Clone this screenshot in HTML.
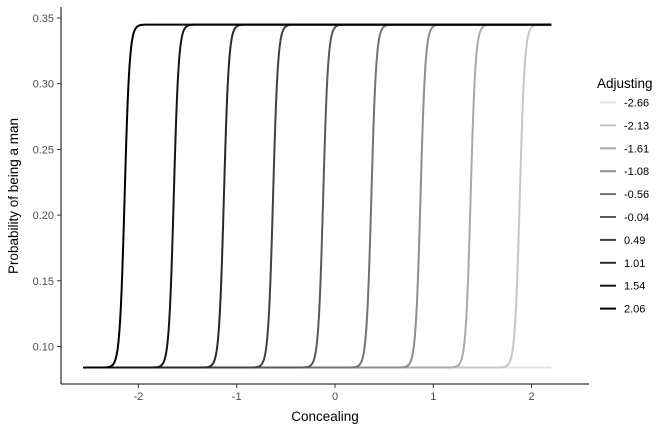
<!DOCTYPE html>
<html><head><meta charset="utf-8"><style>
body{margin:0;background:#fff;font-family:"Liberation Sans",sans-serif}
</style></head><body>
<svg id="chart" width="672" height="432" xmlns="http://www.w3.org/2000/svg" font-family="Liberation Sans, sans-serif">
<g id="plot"></g>
<g id="axes"></g>
<g id="legend"></g>
</svg>
<script>
const adjusting = [-2.66,-2.13,-1.61,-1.08,-0.56,-0.04,0.49,1.01,1.54,2.06];
const midpoints = [2.39,1.88,1.38,0.87,0.37,-0.12,-0.63,-1.13,-1.64,-2.14];
const colors = ["#e3e3e3","#c6c6c6","#a9a9a9","#8e8e8e","#737373","#595959","#414141","#2a2a2a","#151515","#000000"];
const lowP = 0.084, highP = 0.345, steep = 40;
const xTicks = [-2,-1,0,1,2];
const yTicks = [0.10,0.15,0.20,0.25,0.30,0.35];
const xMin = -2.56, xMax = 2.2;
const NS="http://www.w3.org/2000/svg";
function sx(v){return 335+v*98.3;}
function sy(v){return 18+(0.35-v)*1314;}
function mk(t,a,p){const e=document.createElementNS(NS,t);for(const k in a)e.setAttribute(k,a[k]);p.appendChild(e);return e;}
const plot=document.getElementById('plot'),axes=document.getElementById('axes'),leg=document.getElementById('legend');
midpoints.forEach((m,i)=>{
  let d="";
  for(let j=0;j<=600;j++){const x=xMin+(xMax-xMin)*j/600;const p=lowP+(highP-lowP)/(1+Math.exp(-steep*(x-m)));d+=(j?"L":"M")+sx(x).toFixed(2)+","+sy(p).toFixed(2);}
  const el=mk('path',{d:d,fill:"none",stroke:colors[i],"stroke-width":2},plot);
  
  
});
let a=mk('line',{x1:61,y1:7,x2:61,y2:384,stroke:"#000","stroke-width":1},axes);

a=mk('line',{x1:61,y1:384,x2:589,y2:384,stroke:"#000","stroke-width":1},axes);

xTicks.forEach(v=>{
  mk('line',{x1:sx(v),y1:384,x2:sx(v),y2:388,stroke:"#333"},axes);
  const t=mk('text',{x:sx(v),y:400,"text-anchor":"middle","font-size":11,fill:"#4d4d4d"},axes);t.textContent=v;
  
});
yTicks.forEach(v=>{
  mk('line',{x1:57,y1:sy(v),x2:61,y2:sy(v),stroke:"#333"},axes);
  const t=mk('text',{x:54,y:sy(v)+4,"text-anchor":"end","font-size":11,fill:"#4d4d4d"},axes);t.textContent=v.toFixed(2);
  
});
let t=mk('text',{x:325,y:421,"text-anchor":"middle","font-size":13.5,fill:"#000"},axes);t.textContent="Concealing";

t=mk('text',{x:0,y:0,"text-anchor":"middle","font-size":13.5,fill:"#000",transform:"translate(18,196) rotate(-90)"},axes);t.textContent="Probability of being a man";

t=mk('text',{x:597,y:88,"font-size":13.5,fill:"#000"},leg);t.textContent="Adjusting";

adjusting.forEach((v,i)=>{
  const y=102.5+i*22.9;
  const g=mk('g',{},leg);
  
  mk('line',{x1:600,y1:y,x2:616,y2:y,stroke:colors[i],"stroke-width":2},g);
  const tt=mk('text',{x:624,y:y+4,"font-size":11,fill:"#000"},g);tt.textContent=v.toFixed(2);
});
</script>
</body></html>
